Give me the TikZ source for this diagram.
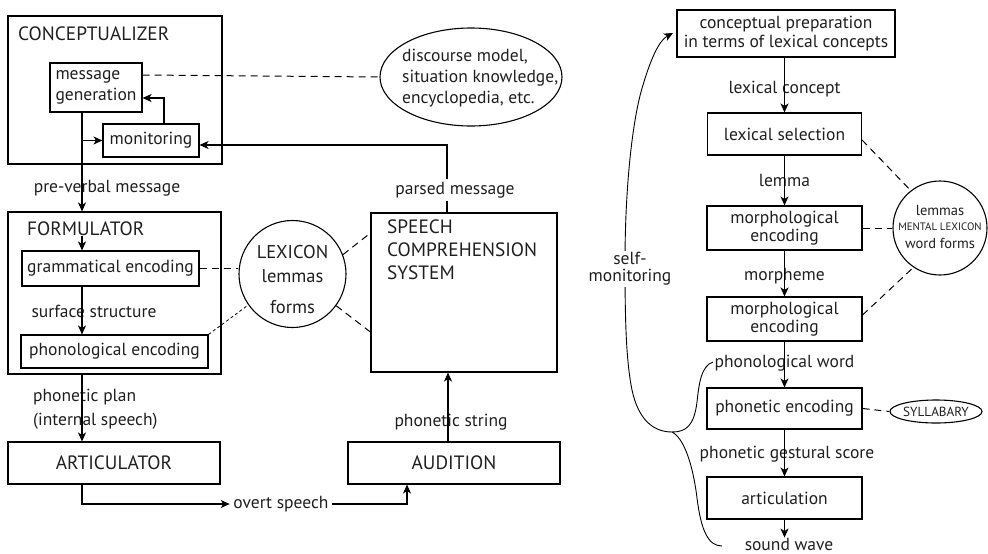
\documentclass[tikz,border=0pt]{standalone}
\usepackage{fontspec}
\setmainfont{PT Sans}
\usetikzlibrary{arrows.meta,shapes.geometric,calc}
\begin{document}
\begin{tikzpicture}[x=1pt,y=-1pt,
  every node/.style={font=\fontsize{17.5}{21}\selectfont, inner sep=0pt, text=black!88},
  caps/.style={font=\fontsize{19.3}{23}\selectfont},
  box/.style={draw, line width=1.1pt, align=center},
  ring/.style={draw, line width=1.1pt},
  conn/.style={line width=1.1pt, -{Stealth[length=9pt,width=8pt,inset=2.5pt]}},
  plain/.style={line width=1.1pt},
  link/.style={line width=1pt, dash pattern=on 7pt off 5pt},
  finelink/.style={line width=0.8pt, dash pattern=on 3pt off 2.5pt},
  loopline/.style={line width=0.9pt},
  lbl/.style={inner sep=0pt}]
\useasboundingbox (0,0) rectangle (988,554);

% ---------- Conceptualizer ----------
\node[box, minimum width=214, minimum height=148] (conc) at (115,90) {};
\node[caps, anchor=west] (concT) at (18,34) {CONCEPTUALIZER};
\node[box, minimum width=92, minimum height=49, align=left] (msg) at (96,87.5) {message\\generation};
\node[box, minimum width=96, minimum height=33] (mon) at (151,140.5) {monitoring};
\node[ellipse, ring, minimum width=182, minimum height=98] (disc) at (471,77) {};
\node[anchor=west, align=left] (discT) at (402,78) {discourse model,\\situation knowledge,\\encyclopedia, etc.};

% ---------- Formulator ----------
\node[lbl] (prev) at (107,188) {pre-verbal message};
\node[box, minimum width=213, minimum height=162] (form) at (114.5,293) {};
\node[caps, anchor=west] (formT) at (27,229) {FORMULATOR};
\node[box, minimum width=177, minimum height=35] (gram) at (110.5,268.5) {grammatical encoding};
\node[lbl] (surf) at (94,311) {surface structure};
\node[box, minimum width=187, minimum height=33] (phon) at (114.5,351.5) {phonological encoding};

% ---------- Lexicon ----------
\node[circle, ring, minimum size=107] (lex) at (292.5,274) {};
\node[font=\fontsize{18.5}{22}\selectfont] (lexA) at (292.5,252) {LEXICON};
\node[font=\fontsize{18.5}{22}\selectfont] (lexB) at (292.5,276) {lemmas};
\node[font=\fontsize{18.5}{22}\selectfont] (lexC) at (292.5,307) {forms};

% ---------- Speech comprehension ----------
\node[box, minimum width=186, minimum height=159] (scs) at (464,292.5) {};
\node[caps, anchor=west, align=left] (scsT) at (387,250) {SPEECH\\COMPREHENSION\\SYSTEM};
\node[inner sep=3pt] (parsed) at (455,190) {parsed message};

% ---------- Articulator / Audition ----------
\node[anchor=west, align=left, font=\fontsize{17.5}{24}\selectfont] (pplan) at (33,409) {phonetic plan\\(internal speech)};
\node[box, caps, minimum width=212, minimum height=42] (artL) at (114,463) {ARTICULATOR};
\node[box, caps, minimum width=212, minimum height=42] (aud) at (454,463) {AUDITION};
\node[lbl] (pstr) at (451,422) {phonetic string};
\node[inner sep=3.5pt] (overt) at (281,504) {overt speech};

% axes of the vertical connectors
\coordinate (xl) at (82,0);
\coordinate (xa) at (407,0);
\coordinate (xs) at (448,0);
\coordinate (xp) at (447,0);

\draw[conn] (msg.south -| xl) -- (form.north -| xl);
\draw[conn] (xl |- mon.west) -- (mon.west);
\draw[conn] ([xshift=13pt]mon.north) |- ([yshift=-10.5pt]msg.east);
\draw[link] ([yshift=12.5pt]msg.east) -- (disc.west);
\draw[conn] (formT.south -| xl) -- (gram.north -| xl);
\draw[conn] (gram.south -| xl) -- (phon.north -| xl);
\draw[conn] (form.south -| xl) -- (artL.north -| xl);
\draw[conn] (artL.south -| xl) |- (overt.west);
\draw[conn] (overt.east) -| (aud.south -| xa);
\draw[conn] (aud.north -| xs) -- (scs.south -| xs);
\draw[plain] (scs.north -| xp) -- (parsed.south -| xp);
\draw[conn] (parsed.north -| xp) |- ([yshift=-4.5pt]mon.east);
\draw[link] (gram.east) -- (gram.east -| lex.west);
\draw[finelink] (phon.north east) -- (lex.215);
\draw[link] (lex.21) -- ([yshift=59.5pt]scs.west);
\draw[link] (lex.-36) -- ([yshift=-39.5pt]scs.west);

% ---------- Right-hand chain ----------
\node[box, minimum width=218, minimum height=47, font=\fontsize{17.5}{19.5}\selectfont] (cprep) at (786,33.5) {conceptual preparation\\in terms of lexical concepts};
\node[lbl] (lc) at (784.5,89) {lexical concept};
\node[box, minimum width=154, minimum height=42] (lsel) at (784.5,134) {lexical selection};
\node[lbl] (lem) at (784.5,180) {lemma};
\node[box, minimum width=155, minimum height=44, font=\fontsize{17.5}{17.5}\selectfont] (mor1) at (784.5,228) {morphological\\encoding};
\node[lbl] (mph) at (784.5,276) {morpheme};
\node[box, minimum width=155, minimum height=44, font=\fontsize{17.5}{17.5}\selectfont] (mor2) at (784.5,319) {morphological\\encoding};
\node[lbl] (pw) at (784.5,363) {phonological word};
\node[box, minimum width=155, minimum height=41] (penc) at (784.5,408.5) {phonetic encoding};
\node[lbl] (pgs) at (787,454) {phonetic gestural score};
\node[box, minimum width=155, minimum height=42] (artR) at (784.5,498) {articulation};
\node[lbl] (sw) at (789,544) {sound wave};

\node[circle, ring, minimum size=94] (ml) at (940,228) {};
\node[font=\fontsize{14.5}{16}\selectfont] (mlA) at (940,211) {lemmas};
\node[font=\fontsize{10.8}{12}\selectfont] (mlB) at (940,227) {MENTAL LEXICON};
\node[font=\fontsize{14.5}{16}\selectfont] (mlC) at (940,243) {word forms};

\node[ellipse, ring, minimum width=92, minimum height=23] (syl) at (936,411.5) {};
\node[font=\fontsize{13.2}{15}\selectfont] (sylT) at (936,411.5) {SYLLABARY};

\draw[conn] (lsel.north |- cprep.south) -- (lsel.north);
\draw[conn] (lsel.south) -- (mor1.north);
\draw[conn] (mor1.south) -- (mor2.north);
\draw[conn] (mor2.south) -- (penc.north);
\draw[conn] (penc.south) -- (artR.north);
\draw[conn] (artR.south) -- (artR.south |- sw.north);

\draw[link] ([yshift=-6pt]lsel.east) -- (ml.128);
\draw[link] (mor1.east) -- (mor1.east -| ml.west);
\draw[link] ([yshift=4pt]mor2.east) -- (ml.236);
\draw[link] (penc.east) -- (syl.west);

% ---------- Self-monitoring loop ----------
\coordinate (J) at (672,432);
\coordinate (hookA) at (713,362);
\coordinate (hookB) at (722,546);
\coordinate (smTop) at (673,33);
\draw[loopline] (hookA) .. controls (701,366) and (699,384) .. (697,402)
  .. controls (694,426) and (686,432) .. (J);
\draw[loopline] (J) .. controls (684,438) and (693,465) .. (697,498)
  .. controls (701,530) and (708,546) .. (hookB);
\draw[loopline, -{Stealth[length=9pt,width=8pt,inset=2.5pt]}] (J)
  .. controls (652,432) and (638,418) .. (632,390)
  .. controls (626,360) and (625,320) .. (625,262)
  .. controls (625,190) and (632,120) .. (643,85)
  .. controls (652,55) and (660,40) .. (smTop);
\node[fill=white, inner sep=1pt, align=center, font=\fontsize{17.5}{17}\selectfont] (smT) at (630,269) {self-\\monitoring};
\end{tikzpicture}
\end{document}
